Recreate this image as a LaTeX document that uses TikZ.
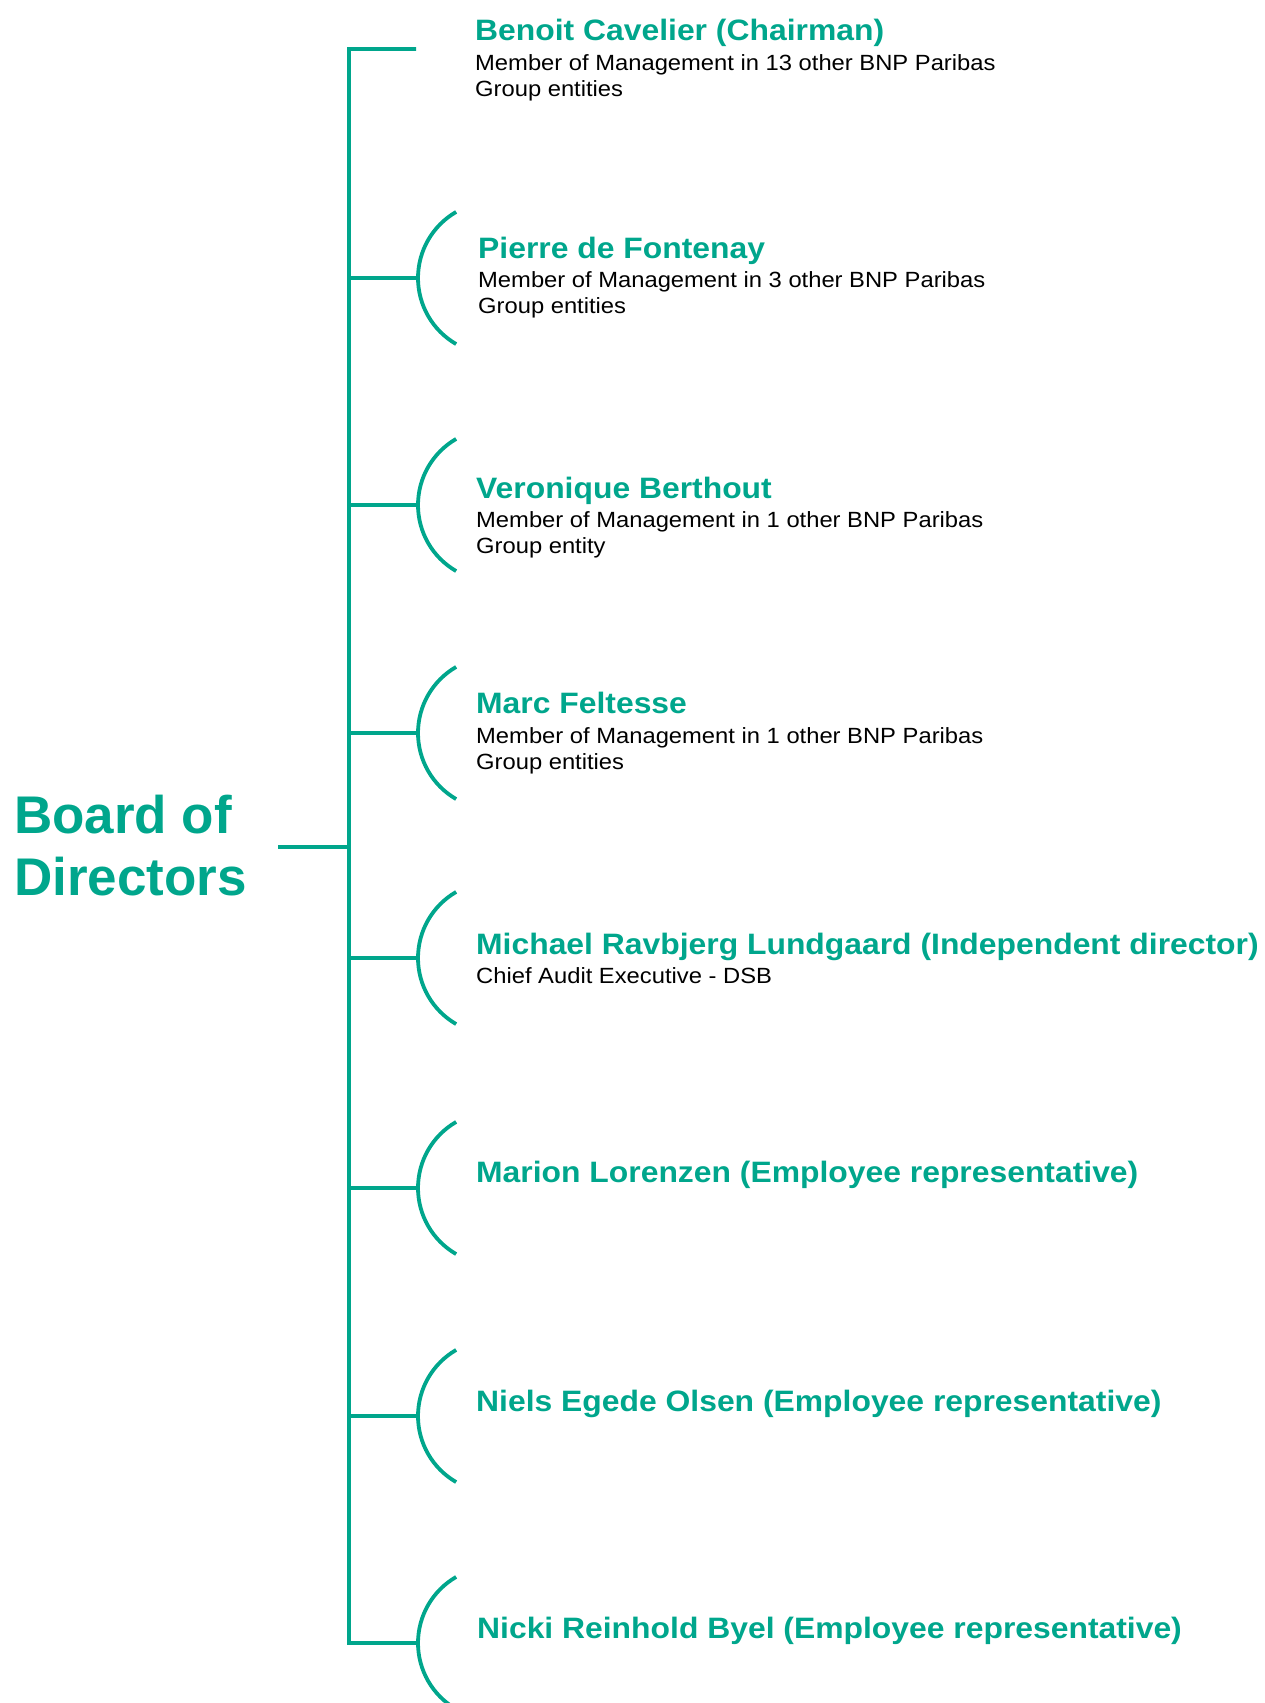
\documentclass[tikz,border=0pt]{standalone}
\usepackage{fontspec}
\setmainfont{Liberation Sans}
\newfontfamily\namefont{Liberation Sans}[FakeStretch=1.08]
\definecolor{bnpgreen}{RGB}{0,166,140}

\begin{document}
\begin{tikzpicture}[x=1pt,y=-1pt,
	arm/.style={draw=bnpgreen,line width=3.8pt},
	board/.style={anchor=base west,inner sep=0pt,align=left,text=bnpgreen,font=\bfseries\fontsize{53}{62}\selectfont},
	who/.style={anchor=base west,inner sep=0pt,text=bnpgreen,font=\namefont\bfseries\fontsize{29.5}{34}\selectfont},
	role/.style={anchor=base west,inner sep=0pt,align=left,font=\namefont\fontsize{22}{26}\selectfont}]
		\useasboundingbox (0,0) rectangle (1264,1703);
		% trunk and end points
		\coordinate (brd) at (278,847);
		\coordinate (t0) at (349,847);
		\coordinate (t1) at (349,49);
		\coordinate (a1) at (416,49);
		\coordinate (t2) at (349,278);
		\coordinate (a2) at (418,278);
		\coordinate (t3) at (349,505);
		\coordinate (a3) at (418,505);
		\coordinate (t4) at (349,733);
		\coordinate (a4) at (418,733);
		\coordinate (t5) at (349,958);
		\coordinate (a5) at (418,958);
		\coordinate (t6) at (349,1188);
		\coordinate (a6) at (418,1188);
		\coordinate (t7) at (349,1416);
		\coordinate (a7) at (418,1416);
		\coordinate (t8) at (349,1643);
		\coordinate (a8) at (418,1643);
		\draw[arm] (a1) -- (t1) -- (t8) -- (a8) arc[start angle=180,end angle=120,radius=76.3] (a8) arc[start angle=180,end angle=240,radius=76.3];
		\draw[arm] (brd) -- (t0);
		\draw[arm] (t2) -- (a2) arc[start angle=180,end angle=120,radius=76.3] (a2) arc[start angle=180,end angle=240,radius=76.3];
		\draw[arm] (t3) -- (a3) arc[start angle=180,end angle=120,radius=76.3] (a3) arc[start angle=180,end angle=240,radius=76.3];
		\draw[arm] (t4) -- (a4) arc[start angle=180,end angle=120,radius=76.3] (a4) arc[start angle=180,end angle=240,radius=76.3];
		\draw[arm] (t5) -- (a5) arc[start angle=180,end angle=120,radius=76.3] (a5) arc[start angle=180,end angle=240,radius=76.3];
		\draw[arm] (t6) -- (a6) arc[start angle=180,end angle=120,radius=76.3] (a6) arc[start angle=180,end angle=240,radius=76.3];
		\draw[arm] (t7) -- (a7) arc[start angle=180,end angle=120,radius=76.3] (a7) arc[start angle=180,end angle=240,radius=76.3];
		% texts (two-line nodes sit on their last line)
		\node[board] (board) at (14,895) {Board of\\Directors};
		\node[who] (cavelier) at (475,40) {Benoit Cavelier (Chairman)};
		\node[role] (cavelierrole) at (475,96) {Member of Management in 13 other BNP Paribas\\Group entities};
		\node[who] (fontenay) at (478,258) {Pierre de Fontenay};
		\node[role] (fontenayrole) at (478,313) {Member of Management in 3 other BNP Paribas\\Group entities};
		\node[who] (berthout) at (476,498) {Veronique Berthout};
		\node[role] (berthoutrole) at (476,553) {Member of Management in 1 other BNP Paribas\\Group entity};
		\node[who] (feltesse) at (476,713) {Marc Feltesse};
		\node[role] (feltesserole) at (476,769) {Member of Management in 1 other BNP Paribas\\Group entities};
		\node[who] (lundgaard) at (476,954) {Michael Ravbjerg Lundgaard (Independent director)};
		\node[role] (lundgaardrole) at (476,983) {Chief Audit Executive - DSB};
		\node[who] (lorenzen) at (476,1182) {Marion Lorenzen (Employee representative)};
		\node[who] (olsen) at (476,1411) {Niels Egede Olsen (Employee representative)};
		\node[who] (byel) at (477,1638) {Nicki Reinhold Byel (Employee representative)};
	\end{tikzpicture}
\end{document}
